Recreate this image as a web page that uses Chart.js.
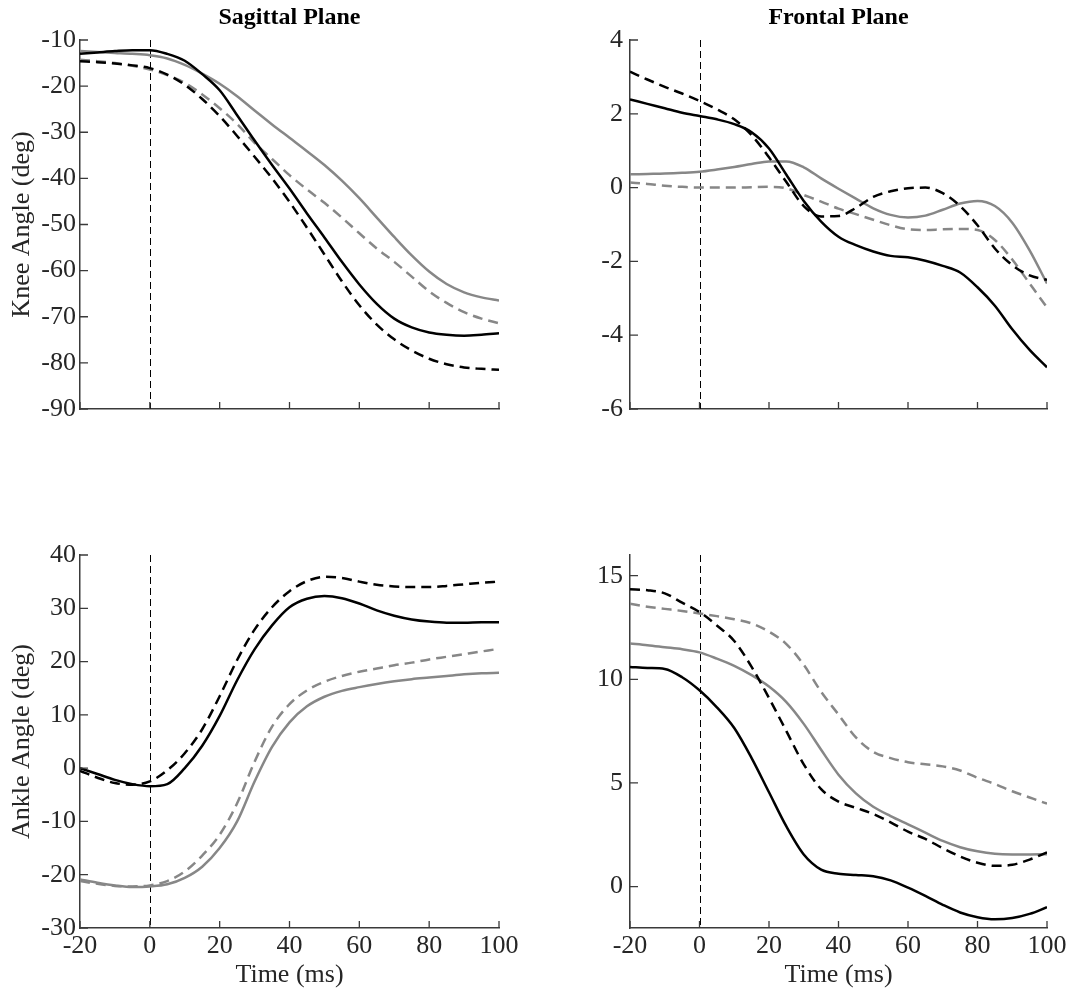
<!DOCTYPE html>
<html>
<head>
<meta charset="utf-8">
<title>Knee and ankle angles</title>
<script src="https://cdn.jsdelivr.net/npm/chart.js@4.4.1/dist/chart.umd.min.js"></script>
<style>
  body { margin: 0; background: #fff; width: 1070px; height: 995px; position: relative; overflow: hidden; }
  canvas { position: absolute; }
</style>
</head>
<body>
<canvas id="kneeSagittal" width="540" height="440" style="left:0;top:0;width:540px;height:440px"></canvas>
<canvas id="kneeFrontal" width="530" height="440" style="left:540px;top:0;width:530px;height:440px"></canvas>
<canvas id="ankleSagittal" width="540" height="480" style="left:0;top:515px;width:540px;height:480px"></canvas>
<canvas id="ankleFrontal" width="530" height="480" style="left:540px;top:515px;width:530px;height:480px"></canvas>
<script>
// time axis (ms), one sample every 5 ms
const timeMs = [-20, -15, -10, -5, 0, 5, 10, 15, 20, 25, 30, 35, 40, 45, 50, 55, 60, 65, 70, 75, 80, 85, 90, 95, 100];
const xTicks = [-20, 0, 20, 40, 60, 80, 100];

// Knee angle, sagittal plane
const kneeSagBlackSolid  = [-13, -12.7, -12.4, -12.2, -12.2, -13, -14.5, -17.4, -20.9, -26.3, -31.8, -37.1, -42.2, -47.6, -52.8, -58.1, -63, -67.2, -70.4, -72.3, -73.4, -73.9, -74.1, -73.9, -73.6];
const kneeSagBlackDashed = [-14.6, -14.8, -15.1, -15.5, -16.1, -17.5, -19.7, -22.8, -26.5, -30.8, -35.3, -40, -45.1, -50.7, -56.5, -62.3, -67.5, -71.7, -74.9, -77.3, -79.1, -80.3, -81, -81.3, -81.5];
const kneeSagGraySolid   = [-12.4, -12.6, -12.8, -13, -13.3, -14, -15.4, -17.3, -19.5, -22.2, -25.3, -28.3, -31.2, -34.1, -37.1, -40.5, -44.3, -48.5, -52.7, -56.7, -60.2, -62.9, -64.7, -65.8, -66.5];
const kneeSagGrayDashed  = [-14.3, -14.6, -15, -15.6, -16.4, -17.6, -19.3, -21.8, -24.8, -28.2, -32.3, -35.8, -39.3, -42.4, -45.3, -48.5, -51.9, -55.2, -58.1, -61.3, -64.5, -67, -69, -70.4, -71.4];
const kneeSagTicks = [-90, -80, -70, -60, -50, -40, -30, -20, -10];

// Knee angle, frontal plane
const kneeFroBlackSolid  = [2.39, 2.27, 2.15, 2.03, 1.94, 1.85, 1.72, 1.5, 1.06, 0.35, -0.36, -0.92, -1.33, -1.56, -1.73, -1.85, -1.89, -1.98, -2.12, -2.3, -2.7, -3.2, -3.84, -4.4, -4.87];
const kneeFroBlackDashed = [3.14, 2.93, 2.73, 2.55, 2.35, 2.12, 1.85, 1.42, 0.82, 0.15, -0.5, -0.78, -0.77, -0.55, -0.25, -0.1, -0.02, 0, -0.15, -0.5, -1.02, -1.65, -2.1, -2.38, -2.5];
const kneeFroGraySolid   = [0.36, 0.37, 0.38, 0.4, 0.43, 0.49, 0.56, 0.64, 0.71, 0.71, 0.55, 0.25, -0.03, -0.3, -0.56, -0.74, -0.81, -0.76, -0.6, -0.43, -0.36, -0.5, -0.95, -1.7, -2.6];
const kneeFroGrayDashed  = [0.14, 0.1, 0.05, 0.02, 0, 0, 0, 0.01, 0.02, -0.02, -0.2, -0.38, -0.57, -0.72, -0.87, -1.02, -1.13, -1.15, -1.13, -1.12, -1.15, -1.42, -1.95, -2.6, -3.25];
const kneeFroTicks = [-6, -4, -2, 0, 2, 4];

// Ankle angle, sagittal plane
const ankleSagBlackSolid  = [0.0, -1.1, -2.2, -3.0, -3.4, -3.0, 0.0, 4.2, 9.8, 16.5, 22.3, 26.8, 30.2, 31.8, 32.3, 31.9, 30.9, 29.6, 28.6, 27.9, 27.5, 27.3, 27.3, 27.4, 27.4];
const ankleSagBlackDashed = [-0.5, -1.8, -2.8, -3.1, -2.5, -0.4, 2.8, 7.3, 13.5, 20.3, 26.0, 30.2, 33.2, 35.1, 35.9, 35.7, 35, 34.4, 34.1, 34, 34, 34.2, 34.5, 34.8, 35];
const ankleSagGraySolid   = [-20.9, -21.5, -22, -22.3, -22.2, -21.8, -20.6, -18.5, -15, -10, -2.5, 4.0, 8.6, 11.6, 13.4, 14.5, 15.2, 15.8, 16.3, 16.7, 17.0, 17.3, 17.6, 17.8, 17.9];
const ankleSagGrayDashed  = [-21.2, -21.7, -22.1, -22.2, -22, -21.2, -19.4, -16.4, -12.5, -6.6, 1.2, 7.8, 12.0, 14.6, 16.2, 17.3, 18.1, 18.7, 19.3, 19.8, 20.4, 20.9, 21.4, 21.9, 22.4];
const ankleSagTicks = [-30, -20, -10, 0, 10, 20, 30, 40];

// Ankle angle, frontal plane
const ankleFroBlackSolid  = [10.6, 10.55, 10.5, 10.1, 9.47, 8.65, 7.65, 6.2, 4.55, 2.9, 1.55, 0.82, 0.62, 0.56, 0.5, 0.3, -0.05, -0.45, -0.88, -1.25, -1.48, -1.58, -1.52, -1.32, -1.0];
const ankleFroBlackDashed = [14.35, 14.3, 14.15, 13.7, 13.25, 12.6, 11.85, 10.6, 9.1, 7.5, 5.9, 4.7, 4.1, 3.8, 3.5, 3.1, 2.65, 2.3, 1.85, 1.45, 1.15, 1.0, 1.05, 1.3, 1.65];
const ankleFroGraySolid   = [11.73, 11.65, 11.55, 11.45, 11.3, 11.0, 10.65, 10.2, 9.65, 8.9, 7.85, 6.6, 5.4, 4.5, 3.85, 3.4, 3.0, 2.6, 2.2, 1.9, 1.7, 1.58, 1.55, 1.55, 1.56];
const ankleFroGrayDashed  = [13.65, 13.5, 13.4, 13.3, 13.18, 13.05, 12.9, 12.7, 12.3, 11.7, 10.7, 9.4, 8.3, 7.2, 6.5, 6.2, 6.0, 5.9, 5.8, 5.6, 5.25, 4.95, 4.6, 4.3, 4.0];
const ankleFroTicks = [0, 5, 10, 15];

const black = '#000000';
const gray = 'rgb(135,135,135)';
const axisColor = '#3a3a3a';
const textColor = '#262626';
const serif = "'Liberation Serif', 'Times New Roman', serif";

// MATLAB style tick marks pointing into the plot
const inwardTicks = {
  id: 'inwardTicks',
  afterDatasetsDraw(chart) {
    const {ctx, chartArea: a, scales: {x, y}} = chart;
    ctx.save();
    ctx.strokeStyle = axisColor;
    ctx.lineWidth = 1.3;
    ctx.beginPath();
    x.ticks.forEach(t => {
      const px = x.getPixelForValue(t.value);
      ctx.moveTo(px, a.bottom);
      ctx.lineTo(px, a.bottom - 7);
    });
    y.ticks.forEach(t => {
      const py = y.getPixelForValue(t.value);
      ctx.moveTo(a.left, py);
      ctx.lineTo(a.left + 8, py);
    });
    ctx.stroke();
    ctx.restore();
  }
};

// thin dashed line at t = 0
const onsetLine = {
  id: 'onsetLine',
  beforeDatasetsDraw(chart) {
    const {ctx, chartArea: a, scales: {x}} = chart;
    const px = Math.round(x.getPixelForValue(0)) + 0.5;
    ctx.save();
    ctx.strokeStyle = black;
    ctx.lineWidth = 1;
    ctx.setLineDash([7, 4]);
    ctx.beginPath();
    ctx.moveTo(px, a.top);
    ctx.lineTo(px, a.bottom);
    ctx.stroke();
    ctx.restore();
  }
};

function seriesSet(blackSolid, blackDashed, graySolid, grayDashed) {
  const pts = vals => vals.map((v, i) => ({x: timeMs[i], y: v}));
  const base = {pointRadius: 0, borderWidth: 2.5, fill: false, cubicInterpolationMode: 'monotone'};
  return [
    {...base, data: pts(blackSolid), borderColor: black},
    {...base, data: pts(blackDashed), borderColor: black, borderDash: [10, 6]},
    {...base, data: pts(graySolid), borderColor: gray},
    {...base, data: pts(grayDashed), borderColor: gray, borderDash: [10, 6]}
  ];
}

// p: panel settings (title, axis labels, limits, fixed box sizes)
function makePanel(canvasId, datasets, p) {
  const ctx = document.getElementById(canvasId).getContext('2d');
  return new Chart(ctx, {
    type: 'line',
    data: {datasets: datasets},
    options: {
      responsive: false,
      animation: false,
      events: [],
      layout: {padding: {top: p.padTop, right: p.padRight, left: 0, bottom: 0}},
      plugins: {
        legend: {display: false},
        tooltip: {enabled: false},
        title: {
          display: !!p.title,
          text: p.title,
          fullSize: false,
          color: black,
          font: {family: serif, size: 24, weight: 'bold'},
          padding: {top: 3.6, bottom: 7.6}
        }
      },
      scales: {
        x: {
          type: 'linear',
          min: -20,
          max: 100,
          afterBuildTicks: s => { s.ticks = xTicks.map(v => ({value: v})); },
          afterFit: s => { s.height = p.xHeight; },
          grid: {display: false, drawTicks: false},
          border: {display: true, color: axisColor, width: 1.5},
          ticks: {display: p.xLabels, color: textColor, padding: 3, maxRotation: 0,
                  font: {family: serif, size: 26}},
          title: {display: p.xLabels, text: 'Time (ms)', color: textColor,
                  font: {family: serif, size: 26}, padding: {top: 0, bottom: 4}}
        },
        y: {
          type: 'linear',
          min: p.yMin,
          max: p.yMax,
          afterBuildTicks: s => { s.ticks = p.yTicks.map(v => ({value: v})); },
          afterFit: s => { s.width = p.yWidth; },
          grid: {display: false, drawTicks: false},
          border: {display: true, color: axisColor, width: 1.5},
          ticks: {color: textColor, padding: p.tickPad, font: {family: serif, size: 26}},
          title: {display: !!p.yTitle, text: p.yTitle, color: textColor,
                  font: {family: serif, size: 26}, padding: {top: 7, bottom: 0}}
        }
      }
    },
    plugins: [onsetLine, inwardTicks]
  });
}

makePanel('kneeSagittal',
  seriesSet(kneeSagBlackSolid, kneeSagBlackDashed, kneeSagGraySolid, kneeSagGrayDashed),
  {title: 'Sagittal Plane', yTitle: 'Knee Angle (deg)', yMin: -90, yMax: -10, yTicks: kneeSagTicks,
   padTop: 0, padRight: 41, xHeight: 31, yWidth: 80, xLabels: false, tickPad: 4});

makePanel('kneeFrontal',
  seriesSet(kneeFroBlackSolid, kneeFroBlackDashed, kneeFroGraySolid, kneeFroGrayDashed),
  {title: 'Frontal Plane', yTitle: '', yMin: -6, yMax: 4, yTicks: kneeFroTicks,
   padTop: 0, padRight: 23, xHeight: 31, yWidth: 90, xLabels: false, tickPad: 7});

makePanel('ankleSagittal',
  seriesSet(ankleSagBlackSolid, ankleSagBlackDashed, ankleSagGraySolid, ankleSagGrayDashed),
  {title: '', yTitle: 'Ankle Angle (deg)', yMin: -30, yMax: 40, yTicks: ankleSagTicks,
   padTop: 40, padRight: 41, xHeight: 67, yWidth: 80, xLabels: true, tickPad: 4});

makePanel('ankleFrontal',
  seriesSet(ankleFroBlackSolid, ankleFroBlackDashed, ankleFroGraySolid, ankleFroGrayDashed),
  {title: '', yTitle: '', yMin: -2, yMax: 16, yTicks: ankleFroTicks,
   padTop: 40, padRight: 23, xHeight: 67, yWidth: 90, xLabels: true, tickPad: 7});
</script>
</body>
</html>
